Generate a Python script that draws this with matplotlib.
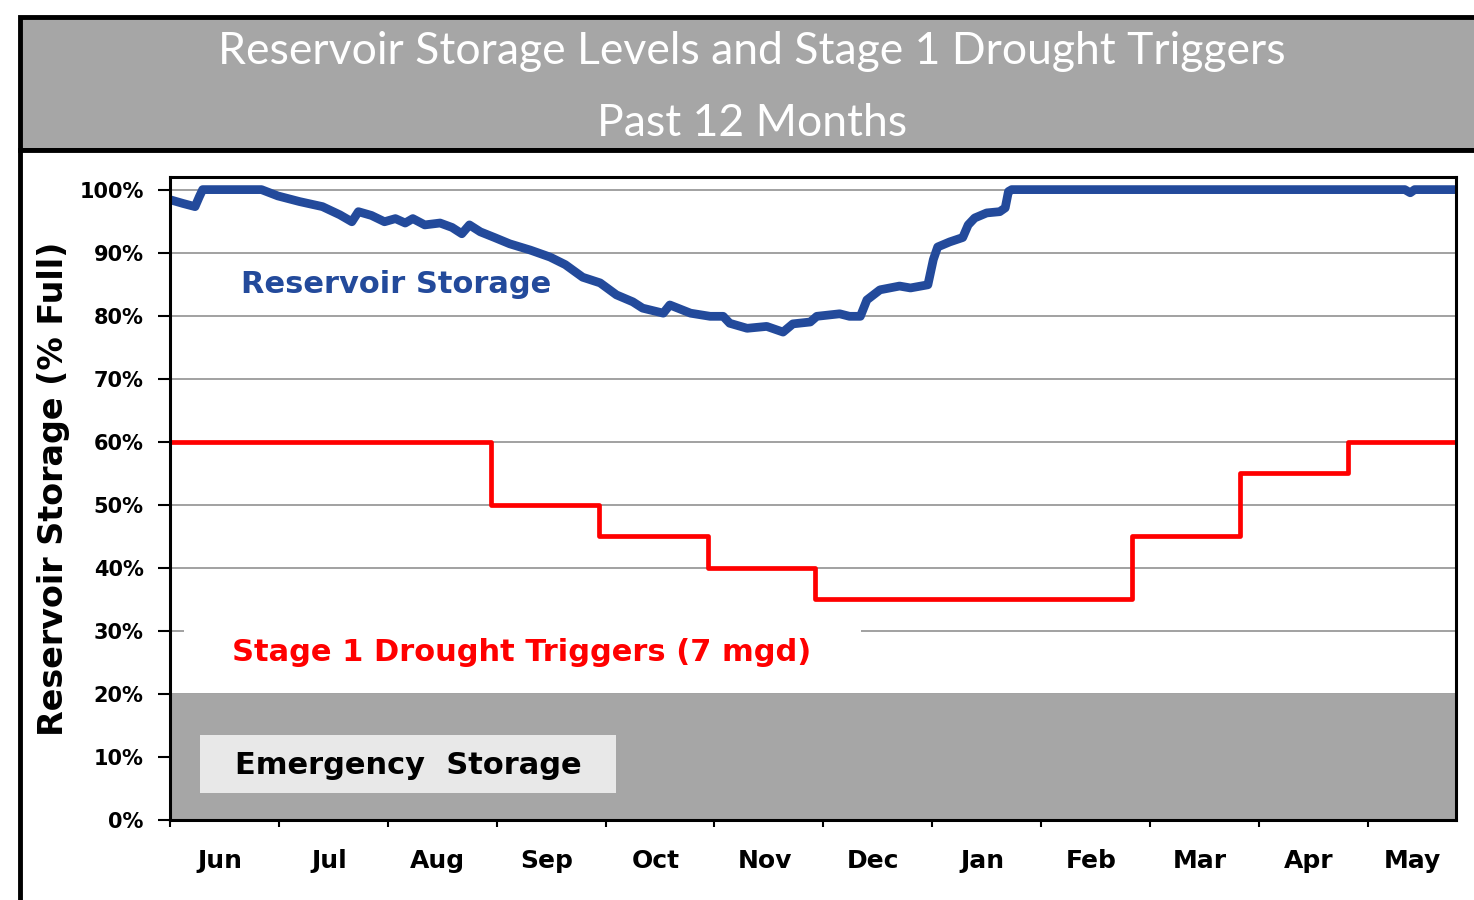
import numpy as np
import matplotlib
matplotlib.use('Agg')
from matplotlib import pyplot as plt
from matplotlib.patches import Rectangle

plt.rcParams['font.family'] = ['Lato', 'DejaVu Sans']
BOLD = 'DejaVu Sans'   # 太字ラベル用（幅の広い書体）

# 月（6月始まり）
months = ['Jun', 'Jul', 'Aug', 'Sep', 'Oct', 'Nov', 'Dec', 'Jan', 'Feb', 'Mar', 'Apr', 'May']
x_end = 11.81   # 表示範囲の終わり（月単位）

# 貯水率（月単位の位置, %）
storage_x = [0.00, 0.12, 0.23, 0.27, 0.30, 0.84, 0.99, 1.19, 1.40, 1.56, 1.67, 1.73,
             1.85, 1.97, 2.07, 2.16, 2.23, 2.34, 2.48, 2.59, 2.68, 2.75, 2.85, 2.98,
             3.12, 3.31, 3.49, 3.63, 3.79, 3.95, 4.10, 4.25, 4.34, 4.53, 4.59, 4.78,
             4.96, 5.08, 5.14, 5.30, 5.48, 5.63, 5.72, 5.88, 5.94, 6.15, 6.24, 6.34,
             6.40, 6.52, 6.70, 6.80, 6.96, 7.01, 7.05, 7.16, 7.28, 7.33, 7.39, 7.50,
             7.62, 7.67, 7.70, 7.73, 11.34, 11.39, 11.43, 11.81]
storage_y = [98.4, 97.8, 97.3, 98.9, 100.0, 100.0, 99.0, 98.1, 97.3, 96.0, 94.9, 96.5,
             95.9, 94.9, 95.4, 94.7, 95.4, 94.4, 94.7, 94.0, 93.0, 94.4, 93.3, 92.4,
             91.4, 90.4, 89.3, 88.1, 86.1, 85.2, 83.3, 82.2, 81.2, 80.4, 81.7, 80.4,
             79.9, 79.9, 78.8, 78.0, 78.3, 77.4, 78.7, 79.0, 79.9, 80.3, 79.9, 79.9,
             82.5, 84.1, 84.7, 84.4, 84.9, 88.9, 90.9, 91.7, 92.4, 94.4, 95.5, 96.3,
             96.5, 97.1, 99.7, 100.0, 100.0, 99.5, 100.0, 100.0]

# 渇水トリガー（階段状）
trigger_x = [0.00, 2.95, 3.94, 4.94, 5.92, 8.83, 9.83, 10.82, 11.81]
trigger_y = [60, 50, 45, 40, 35, 45, 55, 60, 60]

emergency_level = 20

fig = plt.figure(figsize=(14.74, 9), dpi=100)

# タイトル帯
fig.patches.append(Rectangle((20 / 1474, 1 - 150 / 900), 1.0, 133 / 900,
                             transform=fig.transFigure, facecolor='#A6A6A6',
                             edgecolor='black', linewidth=3.5, zorder=-2))
fig.patches.append(Rectangle((20 / 1474, -0.05), 1.0, 1.05 - 150 / 900,
                             transform=fig.transFigure, facecolor='white',
                             edgecolor='black', linewidth=3.5, zorder=-2))
fig.text(0.510, 1 - 52 / 900, 'Reservoir Storage Levels and Stage 1 Drought Triggers',
         color='white', fontsize=32, ha='center', va='center')
fig.text(0.510, 1 - 123 / 900, 'Past 12 Months',
         color='white', fontsize=32, ha='center', va='center')

ax = fig.add_axes([170 / 1474, 1 - 820 / 900, 1286 / 1474, 643 / 900])

# グリッドと非常用貯水域
ax.set_axisbelow(True)
ax.yaxis.grid(True, color='#9A9A9A', linewidth=1.3, zorder=0.5)
ax.axhspan(0, emergency_level, color='#A6A6A6', zorder=1, linewidth=0)

# ラベル背景
ax.add_patch(Rectangle((0.13, 21.5), 6.22, 11, facecolor='white', edgecolor='none', zorder=1.5))
ax.add_patch(Rectangle((0.28, 4.3), 3.82, 9.2, facecolor='#E8E8E8', edgecolor='none', zorder=2))

# データをプロット
ax.plot(storage_x, storage_y, color='#234A9B', linewidth=6.3, zorder=4, solid_capstyle='butt')
ax.step(trigger_x, trigger_y, where='post', color='#FF0000', linewidth=3.4, zorder=3)

ax.text(0.65, 84.9, 'Reservoir Storage', color='#234A9B', fontsize=22,
        family=BOLD, fontweight='bold', va='center', zorder=5)
ax.text(0.57, 26.6, 'Stage 1 Drought Triggers (7 mgd)', color='#FF0000', fontsize=22,
        family=BOLD, fontweight='bold', va='center', zorder=5)
ax.text(0.60, 8.6, 'Emergency  Storage', color='black', fontsize=22,
        family=BOLD, fontweight='bold', va='center', zorder=5)

# 軸設定
ax.set_xlim(0, x_end)
ax.set_ylim(0, 102)
ax.set_yticks(np.arange(0, 101, 10))
ax.set_yticklabels([f'{v}%' for v in range(0, 101, 10)], fontsize=15,
                   family=BOLD, fontweight='bold')
ax.tick_params(axis='y', direction='out', length=9, width=1.5, pad=10)

ax.set_xticks(np.arange(0, 12))
ax.set_xticklabels([])
ax.tick_params(axis='x', which='major', direction='out', length=5, width=1.5)
mid = [min(k + 0.46, (k + x_end) / 2) for k in range(12)]
ax.set_xticks(mid, minor=True)
ax.set_xticklabels(months, minor=True, fontsize=18, family=BOLD, fontweight='bold')
ax.tick_params(axis='x', which='minor', length=0, pad=21)

for s in ax.spines.values():
    s.set_linewidth(2.2)
    s.set_zorder(6)

ax.set_ylabel('Reservoir Storage (% Full)', fontsize=24, family=BOLD, fontweight='bold')
ax.yaxis.set_label_coords(-0.078, 0.515)

fig.savefig('out.png', dpi=100)
plt.close()
